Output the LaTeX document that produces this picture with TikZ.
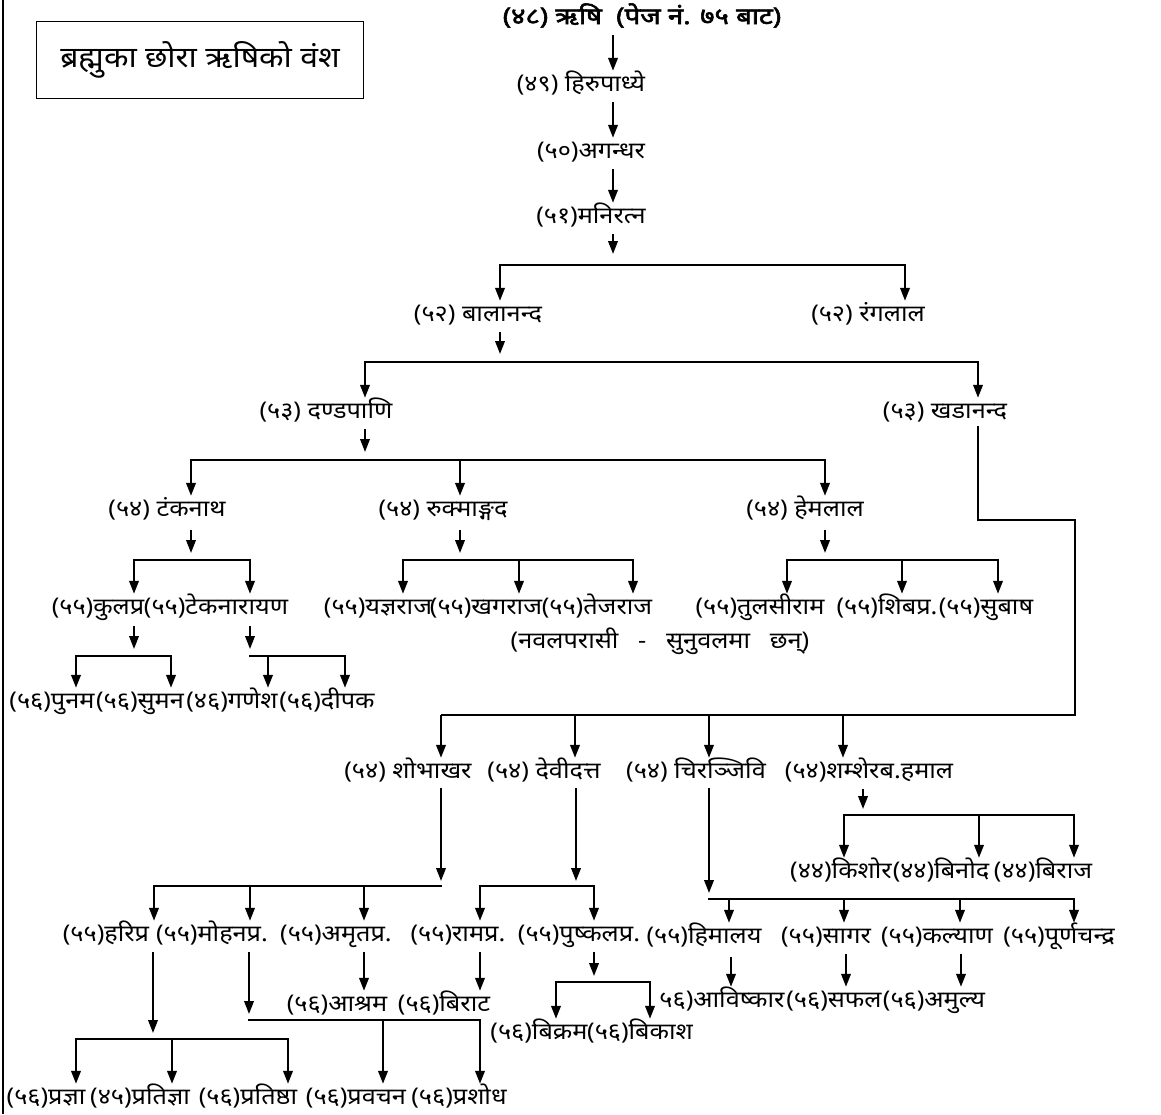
\documentclass[tikz,border=0pt]{standalone}
\usepackage{fontspec}
\newfontfamily\deva[Script=Devanagari, FakeStretch=1.1]{Noto Sans}
\newfontfamily\devab[Script=Devanagari, FakeStretch=1.2, FakeBold=2.5]{Noto Sans}
\usetikzlibrary{arrows.meta}
\tikzset{
  nm/.style={font=\deva\fontsize{23}{26}\selectfont, inner xsep=0pt, inner ysep=3pt,
    text height=17pt, text depth=5pt},
  arr/.style={-{Triangle[length=13pt,width=9.5pt]}, line width=2.2pt},
  bar/.style={line width=2.2pt, line cap=rect},
  thinline/.style={line width=1.3pt},
}
\begin{document}
\begin{tikzpicture}[x=1pt,y=-1pt]
  \useasboundingbox (0,0) rectangle (1161,1114);
  \fill[white] (0,0) rectangle (1161,1114);
  \draw[line width=1.5pt] (3,0) -- (3,1114);
  \node[draw, line width=1.5pt, minimum width=327pt, minimum height=77pt,
    font=\deva\fontsize{29}{32}\selectfont] (title) at (200,60) {ब्रह्मुका छोरा ऋषिको वंश};

  % top line
  \node[nm, font=\devab\fontsize{23}{26}\selectfont] (g48) at (642,18) {(४८) ऋषि\ \ (पेज नं. ७५ बाट)};
  \node[nm] (g49) at (581,85) {(४९) हिरुपाध्ये};
  \node[nm] (g50) at (591,152) {(५०)अगन्धर};
  \node[nm] (g51) at (591,217) {(५१)मनिरत्न};
  \node[nm] (g52a) at (478,315) {(५२) बालानन्द};
  \node[nm] (g52b) at (868,315) {(५२) रंगलाल};
  \node[nm] (g53a) at (326,412) {(५३) दण्डपाणि};
  \node[nm] (g53b) at (945,412) {(५३) खडानन्द};
  \node[nm] (g54a) at (167,510) {(५४) टंकनाथ};
  \node[nm] (g54b) at (443,510) {(५४) रुक्माङ्गद};
  \node[nm] (g54c) at (805,510) {(५४) हेमलाल};

  % row 55 (upper)
  \node[nm] (g55a) at (98,608) {(५५)कुलप्र};
  \node[nm] (g55b) at (216,608) {(५५)टेकनारायण};
  \node[nm] (g55c) at (378,608) {(५५)यज्ञराज};
  \node[nm] (g55d) at (486,608) {(५५)खगराज};
  \node[nm] (g55e) at (597,608) {(५५)तेजराज};
  \node[nm] (g55f) at (760,608) {(५५)तुलसीराम};
  \node[nm] (g55g) at (887,608) {(५५)शिबप्र.};
  \node[nm] (g55h) at (986,608) {(५५)सुबाष};
  \node[nm] (note) at (660,642) {(नवलपरासी\ \ \ -\ \ \ सुनुवलमा\ \ \ छन्)};
  \node[nm] (g56a) at (52,702) {(५६)पुनम};
  \node[nm] (g56b) at (140,702) {(५६)सुमन};
  \node[nm] (g56c) at (232,702) {(४६)गणेश};
  \node[nm] (g56d) at (327,702) {(५६)दीपक};

  % Khadananda line
  \node[nm] (k54a) at (408,772) {(५४) शोभाखर};
  \node[nm] (k54b) at (544,772) {(५४) देवीदत्त};
  \node[nm] (k54c) at (696,772) {(५४) चिरञ्जिवि};
  \node[nm] (k54d) at (869,772) {(५४)शम्शेरब.हमाल};
  \node[nm] (k44a) at (841,872) {(४४)किशोर};
  \node[nm] (k44b) at (941,872) {(४४)बिनोद};
  \node[nm] (k44c) at (1043,872) {(४४)बिराज};
  \node[nm] (k55a) at (106,935) {(५५)हरिप्र};
  \node[nm] (k55b) at (212,935) {(५५)मोहनप्र.};
  \node[nm] (k55c) at (336,935) {(५५)अमृतप्र.};
  \node[nm] (k55d) at (458,935) {(५५)रामप्र.};
  \node[nm] (k55e) at (579,935) {(५५)पुष्कलप्र.};
  \node[nm] (k55f) at (704,937) {(५५)हिमालय};
  \node[nm] (k55g) at (826,937) {(५५)सागर};
  \node[nm] (k55h) at (937,937) {(५५)कल्याण};
  \node[nm] (k55i) at (1059,937) {(५५)पूर्णचन्द्र};
  \node[nm] (k56a) at (337,1005) {(५६)आश्रम};
  \node[nm] (k56b) at (444,1005) {(५६)बिराट};
  \node[nm] (k56c) at (539,1033) {(५६)बिक्रम};
  \node[nm] (k56d) at (640,1033) {(५६)बिकाश};
  \node[nm] (k56e) at (722,1001) {५६)आविष्कार};
  \node[nm] (k56f) at (834,1001) {(५६)सफल};
  \node[nm] (k56g) at (934,1001) {(५६)अमुल्य};
  \node[nm] (k56h) at (46,1098) {(५६)प्रज्ञा};
  \node[nm] (k56i) at (140,1098) {(४५)प्रतिज्ञा};
  \node[nm] (k56j) at (248,1098) {(५६)प्रतिष्ठा};
  \node[nm] (k56k) at (356,1098) {(५६)प्रवचन};
  \node[nm] (k56l) at (459,1098) {(५६)प्रशोध};

  % connectors, top part
  \draw[arr, shorten <=3pt] (613,0 |- g48.south) -- (613,0 |- g49.north);
  \draw[arr, shorten <=3pt] (613,0 |- g49.south) -- (613,0 |- g50.north);
  \draw[arr, shorten <=3pt] (613,0 |- g50.south) -- (613,0 |- g51.north);
  \draw[arr, shorten <=3pt] (613,0 |- g51.south) -- (613,254);
  \draw[bar] (500,265) -- (905,265);
  \draw[arr] (500,265) -- (500,265 |- g52a.north);
  \draw[arr] (905,265) -- (905,265 |- g52b.north);
  \draw[arr, shorten <=3pt] (500,0 |- g52a.south) -- (500,354);
  \draw[bar] (365,362) -- (978,362);
  \draw[arr] (365,362) -- (365,362 |- g53a.north);
  \draw[arr] (978,362) -- (978,362 |- g53b.north);
  \draw[arr, shorten <=3pt] (365,0 |- g53a.south) -- (365,452);
  \draw[bar] (191,460) -- (825,460);
  \foreach \xx/\nn in {191/g54a, 460/g54b, 825/g54c}
    \draw[arr] (\xx,460) -- (\xx,460 |- \nn.north);
  \draw[arr, shorten <=6pt] (191,0 |- g54a.south) -- (191,553);
  \draw[arr, shorten <=6pt] (460,0 |- g54b.south) -- (460,553);
  \draw[arr, shorten <=6pt] (825,0 |- g54c.south) -- (825,553);
  \draw[bar] (134,560) -- (250,560);
  \draw[bar] (403,560) -- (633,560);
  \draw[bar] (787,560) -- (998,560);
  \foreach \xx/\nn in {134/g55a, 250/g55b, 403/g55c, 519/g55d, 633/g55e,
                       787/g55f, 902/g55g, 998/g55h}
    \draw[arr] (\xx,560) -- (\xx,560 |- \nn.north);
  \draw[arr, shorten <=4pt] (134,0 |- g55a.south) -- (134,649);
  \draw[arr, shorten <=4pt] (250,0 |- g55b.south) -- (250,649);
  \draw[bar] (76,656) -- (171,656);
  \draw[bar] (250,656) -- (345,656);
  \foreach \xx/\nn in {76/g56a, 171/g56b, 268/g56c, 345/g56d}
    \draw[arr] (\xx,656) -- (\xx,656 |- \nn.north);

  % connectors, Khadananda part
  \draw[thinline] (978,0 |- g53b.south) -- (978,520) -- (1075,520) -- (1075,715) -- (441,715);
  \foreach \xx/\nn in {441/k54a, 575/k54b, 709/k54c, 843/k54d}
    \draw[arr] (\xx,715) -- (\xx,715 |- \nn.north);
  \draw[arr, shorten <=2pt] (441,0 |- k54a.south) -- (441,881);
  \draw[arr, shorten <=2pt] (576,0 |- k54b.south) -- (576,881);
  \draw[arr, shorten <=2pt] (709,0 |- k54c.south) -- (709,893);
  \draw[arr, shorten <=3pt] (863,0 |- k54d.south) -- (863,809);
  \draw[bar] (154,886) -- (441,886);
  \draw[bar] (480,886) -- (594,886);
  \draw[bar] (709,899) -- (1074,899);
  \draw[bar] (844,815) -- (1074,815);
  \foreach \xx/\nn in {154/k55a, 250/k55b, 364/k55c, 480/k55d, 594/k55e}
    \draw[arr] (\xx,886) -- (\xx,886 |- \nn.north);
  \foreach \xx/\nn in {729/k55f, 844/k55g, 960/k55h, 1074/k55i}
    \draw[arr] (\xx,899) -- (\xx,899 |- \nn.north);
  \foreach \xx/\nn in {844/k44a, 979/k44b, 1074/k44c}
    \draw[arr] (\xx,815) -- (\xx,815 |- \nn.north);

  % connectors, last rows
  \draw[arr, shorten <=3pt] (153,0 |- k55a.south) -- (153,1033);
  \draw[arr, shorten <=3pt] (249,0 |- k55b.south) -- (249,1014);
  \draw[bar] (76,1039) -- (288,1039);
  \draw[bar] (249,1020) -- (480,1020);
  \foreach \xx/\nn in {76/k56h, 172/k56i, 288/k56j}
    \draw[arr] (\xx,1039) -- (\xx,1039 |- \nn.north);
  \foreach \xx/\nn in {383/k56k, 480/k56l}
    \draw[arr] (\xx,1020) -- (\xx,1020 |- \nn.north);
  \draw[arr, shorten <=3pt] (364,0 |- k55c.south) -- (364,0 |- k56a.north);
  \draw[arr, shorten <=3pt] (480,0 |- k55d.south) -- (480,0 |- k56b.north);
  \draw[arr, shorten <=3pt] (594,0 |- k55e.south) -- (594,976);
  \draw[bar] (556,982) -- (650,982);
  \draw[arr] (556,982) -- (556,982 |- k56c.north);
  \draw[arr] (650,982) -- (650,982 |- k56d.north);
  \draw[arr, shorten <=6pt] (731,0 |- k55f.south) -- (731,0 |- k56e.north);
  \draw[arr, shorten <=3pt] (846,0 |- k55g.south) -- (846,0 |- k56f.north);
  \draw[arr, shorten <=3pt] (961,0 |- k55h.south) -- (961,0 |- k56g.north);
\end{tikzpicture}
\end{document}
